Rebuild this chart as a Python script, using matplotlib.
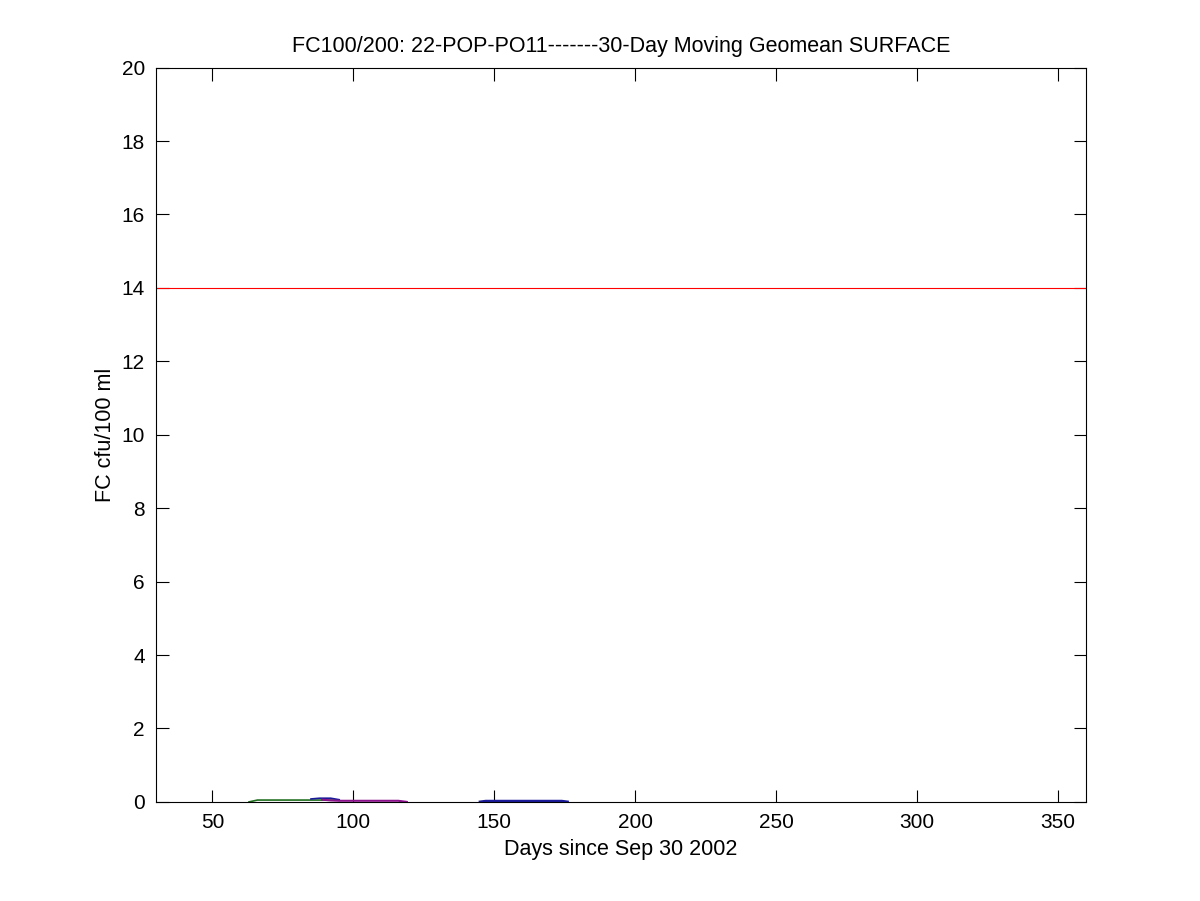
import matplotlib
matplotlib.use("Agg")
import matplotlib.pyplot as plt

plt.rcParams['font.family'] = ['Liberation Sans', 'DejaVu Sans']

title = "FC100/200: 22-POP-PO11-------30-Day Moving Geomean SURFACE"
xlabel = "Days since Sep 30 2002"
ylabel = "FC cfu/100 ml"
standard = 14

green_x = [63, 66, 94]
green_y = [0.0, 0.05, 0.05]
blue1_x = [85, 88, 92, 95]
blue1_y = [0.08, 0.1, 0.1, 0.06]
mag_x = [89, 92, 95, 116, 119]
mag_y = [0.06, 0.04, 0.03, 0.03, 0.0]
blue2_x = [145, 147, 174, 176]
blue2_y = [0.0, 0.02, 0.02, 0.0]

fig = plt.figure(figsize=(12, 9.01), dpi=100)
ax = fig.add_axes([0.13, 0.11, 0.775, 0.815])
ax.axhline(standard, color='red', lw=0.8)
ax.plot(green_x, green_y, color='#1e6e1e', lw=1.2)
ax.plot(blue1_x, blue1_y, color='#1a1a9a', lw=1.2)
ax.plot(mag_x, mag_y, color='#8b108b', lw=1.5)
ax.plot(blue2_x, blue2_y, color='#1a1a9a', lw=2)
ax.set_xlim(30, 360)
ax.set_ylim(0, 20)
ax.set_xticks([50, 100, 150, 200, 250, 300, 350])
ax.set_yticks(range(0, 21, 2))
ax.tick_params(direction='in', top=True, right=True, labelsize=15, length=9, pad=8)
ax.set_title(title, fontsize=15.5, pad=11)
ax.set_xlabel(xlabel, fontsize=15.5, labelpad=5)
ax.set_ylabel(ylabel, fontsize=15.5, labelpad=4)
fig.savefig("out.png", dpi=100)
